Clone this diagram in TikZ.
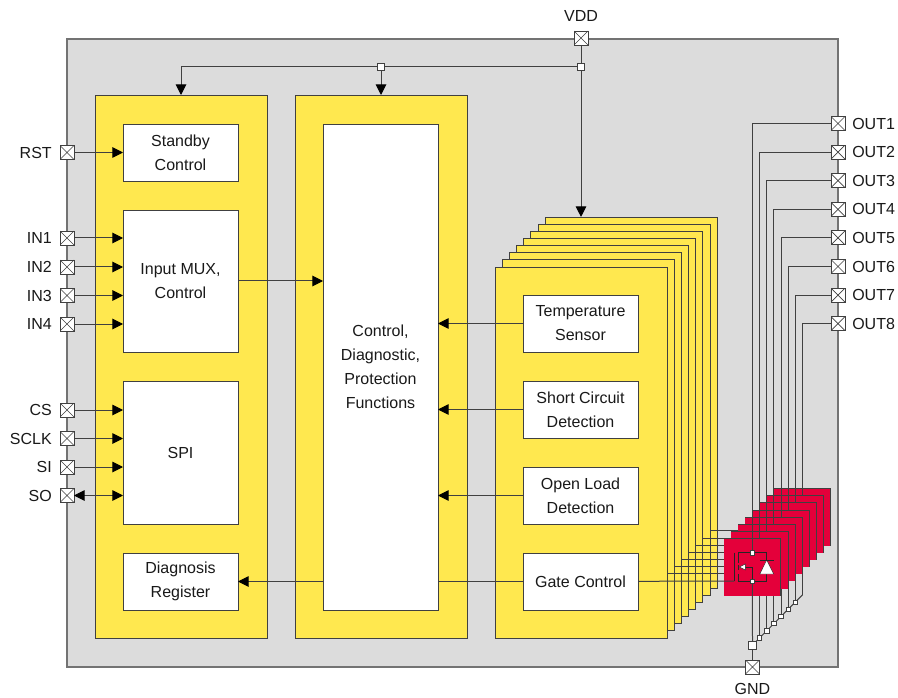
\documentclass[tikz,border=0pt]{standalone}
\usepackage{fontspec}
\setmainfont{Liberation Sans}
\usetikzlibrary{arrows.meta}
\definecolor{chipgray}{HTML}{DCDCDC}
\definecolor{chipyellow}{HTML}{FFE84F}
\definecolor{chipred}{HTML}{E4003A}
\definecolor{linedark}{HTML}{404040}
\tikzset{
  wh/.style 2 args={minimum width=#1*0.75pt,minimum height=#2*0.75pt,inner sep=0pt,outer sep=0pt},
  txt/.style={font=\fontsize{12}{18}\selectfont,text=black!90,align=center},
  chip/.style={draw=black!55,line width=1pt,fill=chipgray},
  yellowbox/.style={draw=linedark,line width=.6pt,fill=chipyellow},
  whitebox/.style={txt,draw=linedark,line width=.6pt,fill=white},
  redbox/.style={fill=chipred,wh={57}{57}},
  pin/.style={draw=linedark,line width=.7pt,fill=white,wh={14}{14},
    path picture={\draw[linedark,line width=.5pt]
      (path picture bounding box.north west)--(path picture bounding box.south east)
      (path picture bounding box.north east)--(path picture bounding box.south west);}},
  junction/.style={draw=linedark,line width=.6pt,fill=white,wh={7}{7}},
  tiny/.style={draw=linedark,line width=.5pt,fill=white,wh={4.5}{4.5}},
  conn/.style={draw=linedark,line width=.75pt},
  arr/.style={conn,-{Triangle[length=8pt,width=8pt,color=black,fill=black]}},
  biarr/.style={conn,{Triangle[length=8pt,width=8pt,color=black,fill=black]}-{Triangle[length=8pt,width=8pt,color=black,fill=black]}},
  mos/.style={draw=black!85,line width=.75pt},
  pinlabel/.style={font=\fontsize{12}{14}\selectfont,text=black!90,inner sep=0pt},
}
\begin{document}
\begin{tikzpicture}[x=.75pt,y=-.75pt]
\useasboundingbox (0,0) rectangle (898,698);
\fill[white] (0,0) rectangle (898,698);
% chip
\path[chip] (67,39) rectangle (838,667);

% coordinates of the gate and drain ends of each channel
\foreach \k in {0,...,7}{
  \coordinate (gs\k) at ({638+7.15*\k},{581-7.15*\k});
  \coordinate (ge\k) at ({734.4+7.15*\k},{581-7.15*\k});
}
% stacked channel layers
\foreach \k in {7,6,...,1}{
  \node[yellowbox,wh={172}{371}] (ylay\k) at ({581+7.15*\k},{452.5-7.15*\k}) {};
  \draw[conn] (gs\k) -- (ge\k);
}
\node[yellowbox,wh={172}{371}] (ylay0) at (581,452.5) {};
% blocks
\node[yellowbox,wh={172}{543}] (blockL) at (181,366.5) {};
\node[yellowbox,wh={172}{543}] (blockC) at (381,366.5) {};

\node[whitebox,wh={115}{57}] (standby) at (180.5,152.5) {Standby\\Control};
\node[whitebox,wh={115}{142}] (mux) at (180.5,281) {Input MUX,\\Control};
\node[whitebox,wh={115}{143}] (spi) at (180.5,452.5) {SPI};
\node[whitebox,wh={115}{57}] (diag) at (180.5,581.5) {Diagnosis\\Register};
\node[whitebox,wh={115}{486}] (ctrl) at (380.5,367) {Control,\\Diagnostic,\\Protection\\Functions};
\node[whitebox,wh={115}{57}] (temp) at (580.5,323.5) {Temperature\\Sensor};
\node[whitebox,wh={115}{57}] (short) at (580.5,409.5) {Short Circuit\\Detection};
\node[whitebox,wh={115}{57}] (open) at (580.5,495.5) {Open Load\\Detection};
\node[whitebox,wh={115}{57}] (gate) at (580.5,581.5) {Gate Control};

% GND collector
\node[pin] (gnd) at (752.5,667) {};
\node[pinlabel] (gndl) at (752.5,689) {GND};
\node[junction,wh={8}{8}] (gndj) at (752.5,645) {};
\foreach \k in {1,...,7}{
  \coordinate (d\k) at ({752.4+7.15*\k},{645-7.15*\k});
}
% OUT pins, switches back to front
\foreach \k/\n in {7/8,6/7,5/6,4/5,3/4,2/3,1/2}{
  \node[redbox] (red\k) at ({752.4+7.15*\k},{567.2-7.15*\k}) {};
  \draw[conn] (red\k.north west) -- (red\k.north east) -- (red\k.south east);
  \node[pin] (out\k) at (838,{123.5+28.6*\k}) {};
  \node[pinlabel,anchor=west] (outl\k) at (852,{123.5+28.6*\k}) {OUT\n};
  \draw[conn] (out\k) -| (d\k);
}
\node[redbox] (red0) at (752.4,567.2) {};
\draw[conn] (red0.north west) -- (red0.north east) -- (red0.south east);
\node[pin] (out0) at (838,123.5) {};
\node[pinlabel,anchor=west] (outl0) at (852,123.5) {OUT1};

% front switch
\coordinate (tj) at (752.4,552.7);
\coordinate (bj) at (752.4,581.2);
\draw[conn] (out0) -| (tj);
\draw[conn] (bj) -- (gndj);
\draw[conn] (gndj) -- (gnd);
\draw[conn] (gate) -- (ge0);
\draw[mos] (734.4,552.7) -- (ge0);
\draw[mos] (738,552.7) -- (738,562.7) (738,564.5) -- (738,570) (738,574) -- (738,581.2);
\draw[mos] (738,552.7) -- (766.7,552.7) -- (766.7,581.2) -- (738,581.2);
\draw[mos] (745.3,567) -- (752.4,567) -- (bj);
\draw[mos,fill=white,line width=.3pt] (739.3,567) -- (745.3,564) -- (745.3,570) -- cycle;
\draw[mos,fill=white,line width=.3pt] (766.7,560) -- (773.7,574) -- (759.8,574) -- cycle;
\draw[mos] (760,560) -- (773.7,560);
\node[tiny] (tjn) at (tj) {};
\node[tiny] (bjn) at (bj) {};
% diagonal collector
\draw[conn] (gndj) -- (d7);
\foreach \k in {1,...,6}{
  \node[tiny] (dn\k) at (d\k) {};
}

% supply
\node[pin] (vdd) at (581,38) {};
\node[pinlabel] (vddl) at (581,16) {VDD};
\node[junction] (j1) at (581,67) {};
\node[junction] (j2) at (381,67) {};
\draw[conn] (vdd) -- (j1);
\draw[arr] (j1) -- (ylay7.north -| j1);
\draw[arr] (j2) -- (blockC);
\draw[conn] (j1) -- (j2);
\draw[arr] (j2) -| (blockL);

% left pins
\foreach \nm/\y in {RST/152.5,IN1/238,IN2/267,IN3/295.5,IN4/324,CS/410,SCLK/438.5,SI/467,SO/495.5}{
  \node[pin] (p\nm) at (67,\y) {};
  \node[pinlabel,anchor=east] (l\nm) at (52,\y) {\nm};
}
\draw[arr] (pRST) -- (pRST -| standby.west);
\foreach \nm in {IN1,IN2,IN3,IN4}{
  \draw[arr] (p\nm) -- (p\nm -| mux.west);
}
\foreach \nm in {CS,SCLK,SI}{
  \draw[arr] (p\nm) -- (p\nm -| spi.west);
}
\draw[biarr] (pSO) -- (pSO -| spi.west);

% internal connectors
\draw[arr] (mux.east) -- (mux.east -| ctrl.west);
\draw[arr] (temp) -- (temp -| ctrl.east);
\draw[arr] (short) -- (short -| ctrl.east);
\draw[arr] (open) -- (open -| ctrl.east);
\draw[conn] (gate) -- (gate -| ctrl.east);
\draw[arr] (gate -| ctrl.west) -- (diag);
\end{tikzpicture}
\end{document}
